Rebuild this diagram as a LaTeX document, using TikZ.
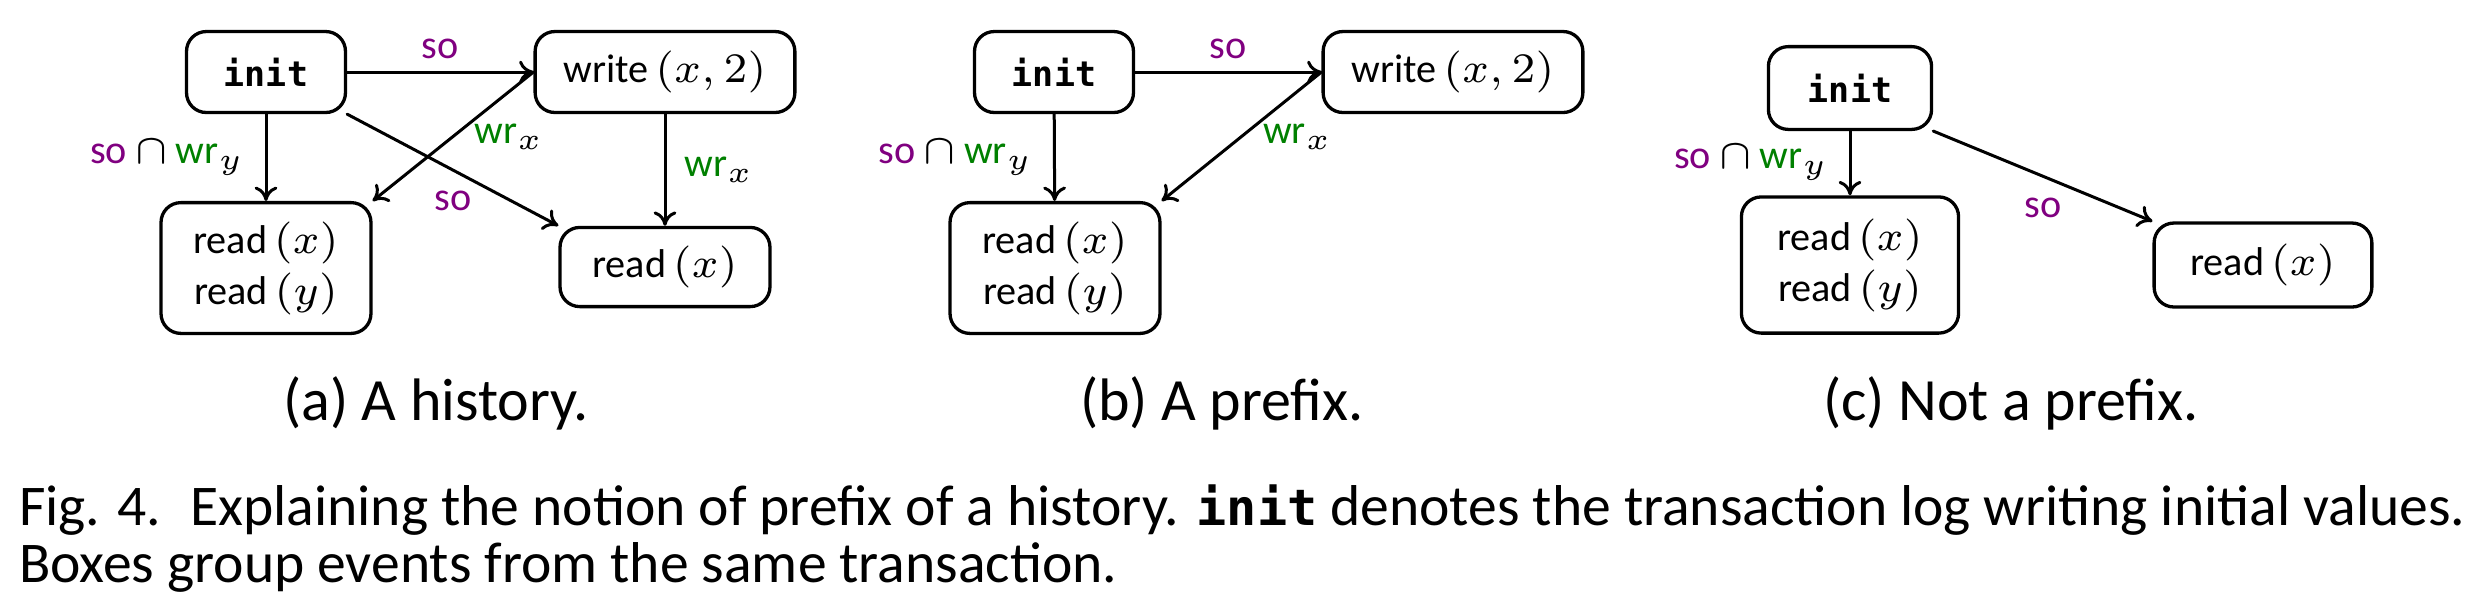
\documentclass[tikz,border=0pt]{standalone}
\usepackage{fontspec}
\setmainfont{Carlito}
\setmonofont{DejaVu Sans Mono}[Scale=0.87]
\usetikzlibrary{arrows.meta}
\definecolor{soclr}{RGB}{128,0,128}
\definecolor{wrclr}{RGB}{0,128,0}
\newcommand{\sorel}{\textcolor{soclr}{so}}
\newcommand{\wrrel}[1]{\textcolor{wrclr}{wr}$_{#1}$}
\newcommand{\initlog}{\texttt{\textbf{init}}}
\begin{document}
\begin{tikzpicture}[x=0.1667pt,y=-0.1667pt,line cap=round,line join=round,
	evbox/.style={draw,rounded corners=3.3pt,line width=0.55pt,align=center,inner sep=0pt,font=\fontsize{6.7}{8.5}\selectfont},
	lbl/.style={font=\fontsize{6.7}{8}\selectfont},
	rel/.style={-{To[length=2.4pt,width=3.8pt]},line width=0.5pt},
	subcap/.style={anchor=base,inner sep=0pt,font=\fontsize{10}{12}\selectfont},
	figcap/.style={anchor=base west,inner sep=0pt,font=\fontsize{9.6}{10}\selectfont}]
	\useasboundingbox (0,0) rectangle (2485,613);
	% (a) a history
	\node[evbox,minimum width=26.5pt,minimum height=13.5pt] (initA) at (266,72) {\initlog};
	\node[evbox,minimum width=43.3pt,minimum height=13.5pt] (writeA) at (665,72) {write\,$(x,2)$};
	\node[evbox,minimum width=35pt,minimum height=21.8pt] (rxyA) at (266,268) {read\,$(x)$\\read\,$(y)$};
	\node[evbox,minimum width=35pt,minimum height=13.2pt] (rxA) at (665,267) {read\,$(x)$};
	\draw[rel] (initA) -- node[lbl,above=-1.4pt]{\sorel} (writeA);
	\draw[rel] (initA) -- node[lbl,left]{\sorel$\,\cap\,$\wrrel{y}} (rxyA);
	\draw[rel] (initA.south east) -- node[lbl,below]{\sorel} (rxA.north west);
	\draw[rel] (writeA.west) -- node[lbl,right]{\wrrel{x}} (rxyA.north east);
	\draw[rel] (writeA) -- node[lbl,right=-0.3pt]{\wrrel{x}} (rxA);
	\node[subcap] (capA) at (436,420) {(a) A history.};
	% (b) a prefix
	\node[evbox,minimum width=26.5pt,minimum height=13.5pt] (initB) at (1054,72) {\initlog};
	\node[evbox,minimum width=43.3pt,minimum height=13.5pt] (writeB) at (1453,72) {write\,$(x,2)$};
	\node[evbox,minimum width=35pt,minimum height=21.8pt] (rxyB) at (1055,268) {read\,$(x)$\\read\,$(y)$};
	\draw[rel] (initB) -- node[lbl,above=-1.4pt]{\sorel} (writeB);
	\draw[rel] (initB) -- node[lbl,left]{\sorel$\,\cap\,$\wrrel{y}} (rxyB);
	\draw[rel] (writeB.west) -- node[lbl,right]{\wrrel{x}} (rxyB.north east);
	\node[subcap] (capB) at (1222,420) {(b) A prefix.};
	% (c) not a prefix
	\node[evbox,minimum width=27.2pt,minimum height=13.8pt] (initC) at (1850,88) {\initlog};
	\node[evbox,minimum width=36.2pt,minimum height=22.7pt] (rxyC) at (1850,265) {read\,$(x)$\\read\,$(y)$};
	\node[evbox,minimum width=36.3pt,minimum height=14pt] (rxC) at (2263,265) {read\,$(x)$};
	\draw[rel] (initC) -- node[lbl,left]{\sorel$\,\cap\,$\wrrel{y}} (rxyC);
	\draw[rel] (initC.south east) -- node[lbl,below]{\sorel} (rxC.north west);
	\node[subcap] (capC) at (2011,420) {(c) Not a prefix.};
	% caption
	\node[figcap] (figcapA) at (18,525) {Fig. 4.\enspace Explaining the notion of prefix of a history. \initlog{} denotes the transaction log writing initial values.};
	\node[figcap] (figcapB) at (18,582) {Boxes group events from the same transaction.};
\end{tikzpicture}
\end{document}
